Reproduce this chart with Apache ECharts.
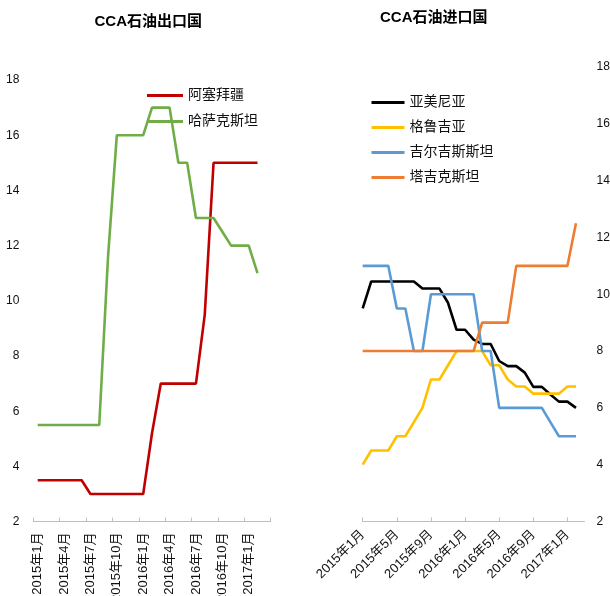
<!DOCTYPE html>
<html>
<head>
<meta charset="utf-8">
<script src="https://cdn.jsdelivr.net/npm/echarts@6/dist/echarts.min.js"></script>
<style>
html,body{margin:0;padding:0;background:#fff;}
#chart{width:610px;height:596px;}
</style>
</head>
<body>
<div id="chart"></div>
<script>
// ---- Data ----
var leftTitle = 'CCA石油出口国';
var rightTitle = 'CCA石油进口国';

var leftMonths = ['2015年1月','2015年2月','2015年3月','2015年4月','2015年5月','2015年6月','2015年7月','2015年8月','2015年9月','2015年10月','2015年11月','2015年12月',
  '2016年1月','2016年2月','2016年3月','2016年4月','2016年5月','2016年6月','2016年7月','2016年8月','2016年9月','2016年10月','2016年11月','2016年12月',
  '2017年1月','2017年2月','2017年3月'];
var rightMonths = ['2015年1月','2015年2月','2015年3月','2015年4月','2015年5月','2015年6月','2015年7月','2015年8月','2015年9月','2015年10月','2015年11月','2015年12月',
  '2016年1月','2016年2月','2016年3月','2016年4月','2016年5月','2016年6月','2016年7月','2016年8月','2016年9月','2016年10月','2016年11月','2016年12月',
  '2017年1月','2017年2月','2017年3月'];

var exportNames = ['阿塞拜疆','哈萨克斯坦'];
var azerbaijan = [3.5,3.5,3.5,3.5,3.5,3.5,3,3,3,3,3,3,3,5.2,7,7,7,7,7,9.5,15,15,15,15,15,15,null];
var kazakhstan = [5.5,5.5,5.5,5.5,5.5,5.5,5.5,5.5,11.6,16,16,16,16,17,17,17,15,15,13,13,13,12.5,12,12,12,11,null];

var importNames = ['亚美尼亚','格鲁吉亚','吉尔吉斯斯坦','塔吉克斯坦'];
var armenia = [9.5,10.45,10.45,10.45,10.45,10.45,10.45,10.2,10.2,10.2,9.7,8.75,8.75,8.4,8.25,8.25,7.65,7.47,7.47,7.24,6.74,6.74,6.47,6.22,6.22,6.0,null];
var georgia = [4,4.5,4.5,4.5,5,5,5.5,6,7,7,7.5,8,8,8,8,7.5,7.5,7,6.75,6.75,6.5,6.5,6.5,6.5,6.75,6.75,null];
var kyrgyzstan = [11,11,11,11,9.5,9.5,8,8,10,10,10,10,10,10,8,8,6,6,6,6,6,6,5.5,5,5,5,null];
var tajikistan = [8,8,8,8,8,8,8,8,8,8,8,8,8,8,9,9,9,9,11,11,11,11,11,11,11,12.5,null];

var exportColors = ['#C00000','#70AD47'];
var importColors = ['#000000','#FFC000','#5B9BD5','#ED7D31'];

// ---- Chart ----
var FONT = 'Liberation Sans, Arial, "Noto Sans CJK SC", sans-serif';
var chart = echarts.init(document.getElementById('chart'), null, {renderer:'canvas'});

function lineSeries(name, data, color, xi) {
  return {
    name: name, type: 'line', data: data, xAxisIndex: xi, yAxisIndex: xi,
    showSymbol: false, symbol: 'none', smooth: false, connectNulls: false,
    lineStyle: {color: color, width: 2.6}, itemStyle: {color: color},
    animation: false
  };
}

var axisLineStyle = {color: '#bfbfbf', width: 1};

var option = {
  animation: false,
  backgroundColor: '#ffffff',
  textStyle: {fontFamily: FONT},
  graphic: [
    {type: 'text', left: 149.5 - 55, top: 14, style: {text: leftTitle, font: 'bold 15px ' + FONT, fill: '#000'}},
    {type: 'text', left: 435 - 55, top: 10, style: {text: rightTitle, font: 'bold 15px ' + FONT, fill: '#000'}}
  ],
  legend: [
    {
      data: exportNames, orient: 'vertical', left: 142, top: 82.5,
      icon: 'rect', itemWidth: 36, itemHeight: 3, itemGap: 10,
      textStyle: {fontSize: 14, lineHeight: 16, color: '#111', fontFamily: FONT}
    },
    {
      data: importNames, orient: 'vertical', left: 366.5, top: 89.5,
      icon: 'rect', itemWidth: 33, itemHeight: 3, itemGap: 9,
      textStyle: {fontSize: 14, lineHeight: 16, color: '#111', fontFamily: FONT}
    }
  ],
  grid: [
    {left: 33.3, top: 80, width: 237.4, height: 441.6, containLabel: false, outerBoundsMode: 'none'},
    {left: 362.7, top: 67, width: 221.8, height: 454.5, containLabel: false, outerBoundsMode: 'none'}
  ],
  xAxis: [
    {
      type: 'category', gridIndex: 0, data: leftMonths, boundaryGap: true,
      axisLine: {show: true, lineStyle: axisLineStyle},
      axisTick: {show: true, inside: true, length: 4, interval: 2, lineStyle: axisLineStyle},
      axisLabel: {interval: 2, rotate: 90, margin: 11, fontSize: 13, color: '#111', fontFamily: FONT},
      splitLine: {show: false}
    },
    {
      type: 'category', gridIndex: 1, data: rightMonths, boundaryGap: false,
      axisLine: {show: true, lineStyle: axisLineStyle},
      axisTick: {show: true, inside: true, length: 4, interval: 3, lineStyle: axisLineStyle},
      axisLabel: {interval: 3, rotate: 45, margin: 11, fontSize: 13, color: '#111', fontFamily: FONT},
      splitLine: {show: false}
    }
  ],
  yAxis: [
    {
      type: 'value', gridIndex: 0, min: 2, max: 18, interval: 2, position: 'left',
      axisLine: {show: false}, axisTick: {show: false}, splitLine: {show: false},
      axisLabel: {margin: 14, fontSize: 12, color: '#111', fontFamily: FONT}
    },
    {
      type: 'value', gridIndex: 1, min: 2, max: 18, interval: 2, position: 'right',
      axisLine: {show: false}, axisTick: {show: false}, splitLine: {show: false},
      axisLabel: {margin: 12, fontSize: 12, color: '#111', fontFamily: FONT}
    }
  ],
  series: [
    lineSeries(exportNames[0], azerbaijan, exportColors[0], 0),
    lineSeries(exportNames[1], kazakhstan, exportColors[1], 0),
    lineSeries(importNames[0], armenia, importColors[0], 1),
    lineSeries(importNames[1], georgia, importColors[1], 1),
    lineSeries(importNames[2], kyrgyzstan, importColors[2], 1),
    lineSeries(importNames[3], tajikistan, importColors[3], 1)
  ]
};
chart.setOption(option);
</script>
</body>
</html>
